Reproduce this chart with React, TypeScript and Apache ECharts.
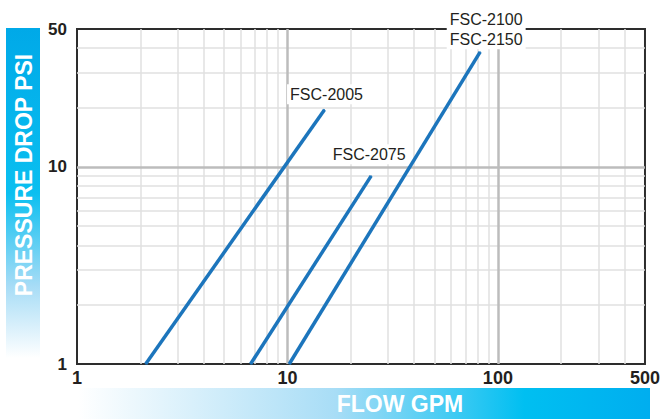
import React, { useEffect, useRef } from 'react';
import * as echarts from 'echarts';

// ---- data ----
const xTickLabels = [1, 10, 100, 500];
const yTickLabels = [1, 10, 50];
const xMinorGrid = [2, 3, 4, 5, 6, 7, 8, 9, 20, 30, 40, 50, 60, 70, 80, 90, 200, 300, 400];
const xMajorGrid = [10, 100];
const yMinorGrid = [2, 3, 4, 5, 6, 7, 8, 9, 20, 30, 40];
const yMajorGrid = [10];

const lineNames = ['FSC-2005', 'FSC-2075', 'FSC-2100\nFSC-2150'];
const fsc2005 = [
  [2.12, 1],
  [15, 19.5],
];
const fsc2075 = [
  [6.68, 1],
  [25, 9],
];
const fsc2100 = [
  [10.2, 1],
  [82.4, 38.3],
];

const FONT = '"Liberation Sans", Arial, Helvetica, sans-serif';
const LINE_COLOR = '#1c75bc';

function makeLine(name: string, pts: number[][], labelDistance: number, offsetX: number) {
  const last = pts[pts.length - 1];
  return {
    type: 'line',
    name,
    z: 5,
    symbol: 'circle',
    symbolSize: 1,
    showSymbol: true,
    itemStyle: { color: LINE_COLOR },
    lineStyle: { color: LINE_COLOR, width: 3.5, cap: 'butt' },
    data: [
      ...pts.slice(0, -1).map((p) => ({ value: p })),
      {
        value: last,
        label: {
          show: true,
          position: 'top',
          distance: labelDistance,
          offset: [offsetX, 0],
          formatter: name,
          fontFamily: FONT,
          fontSize: 16,
          lineHeight: 20,
          color: '#231f20',
          backgroundColor: '#ffffff',
          padding: [0, 3],
        },
      },
    ],
  };
}

export default function App() {
  const ref = useRef<HTMLDivElement>(null);

  useEffect(() => {
    if (!ref.current) return;
    const chart = echarts.init(ref.current, null, { renderer: 'svg' });

    const minorStyle = { color: '#e0e0e0', width: 1.5, type: 'solid' };
    const majorStyle = { color: '#bcbcbc', width: 2.5, type: 'solid' };

    const gridLineData = [
      ...xMinorGrid.map((v) => ({ xAxis: v, lineStyle: minorStyle })),
      ...yMinorGrid.map((v) => ({ yAxis: v, lineStyle: minorStyle })),
      ...xMajorGrid.map((v) => ({ xAxis: v, lineStyle: majorStyle })),
      ...yMajorGrid.map((v) => ({ yAxis: v, lineStyle: majorStyle })),
    ];

    const option: any = {
      animation: false,
      backgroundColor: '#ffffff',
      grid: {
        left: 77,
        top: 29,
        right: 14,
        bottom: 55,
        show: true,
        borderColor: '#2d2d2d',
        borderWidth: 2,
        backgroundColor: 'transparent',
        z: 3,
      },
      xAxis: {
        type: 'log',
        logBase: 10,
        min: 1,
        max: 500,
        axisLine: { show: false },
        axisTick: { show: false },
        splitLine: { show: false },
        minorTick: { show: false },
        axisLabel: {
          customValues: xTickLabels,
          margin: 5,
          fontFamily: FONT,
          fontSize: 18,
          fontWeight: 'bold',
          color: '#231f20',
          formatter: (v: number) => String(Math.round(v)),
        },
      },
      yAxis: {
        type: 'log',
        logBase: 10,
        min: 1,
        max: 50,
        axisLine: { show: false },
        axisTick: { show: false },
        splitLine: { show: false },
        minorTick: { show: false },
        axisLabel: {
          customValues: yTickLabels,
          margin: 10,
          fontFamily: FONT,
          fontSize: 17,
          fontWeight: 'bold',
          color: '#231f20',
          formatter: (v: number) => String(Math.round(v)),
        },
      },
      graphic: [
        {
          type: 'rect',
          left: 6,
          top: 28,
          shape: { width: 34, height: 330 },
          style: {
            fill: new echarts.graphic.LinearGradient(0, 0, 0, 1, [
              { offset: 0, color: '#00a9e8' },
              { offset: 0.5, color: '#0abff0' },
              { offset: 0.78, color: '#a6dcf6' },
              { offset: 1, color: '#ffffff' },
            ]),
          },
          z: 0,
        },
        {
          type: 'text',
          x: 24,
          y: 175,
          rotation: Math.PI / 2,
          style: {
            text: 'PRESSURE DROP PSI',
            fill: '#ffffff',
            font: `bold 23px ${FONT}`,
            align: 'center',
            verticalAlign: 'middle',
          },
          z: 1,
        },
        {
          type: 'rect',
          left: 78,
          top: 388,
          shape: { width: 572, height: 31 },
          style: {
            fill: new echarts.graphic.LinearGradient(0, 0, 1, 0, [
              { offset: 0, color: '#ffffff' },
              { offset: 0.45, color: '#a8ddf6' },
              { offset: 0.78, color: '#00bff1' },
              { offset: 1, color: '#00aeef' },
            ]),
          },
          z: 0,
        },
        {
          type: 'text',
          x: 400,
          y: 404,
          style: {
            text: 'FLOW GPM',
            fill: '#ffffff',
            font: `bold 23px ${FONT}`,
            align: 'center',
            verticalAlign: 'middle',
          },
          z: 1,
        },
      ],
      series: [
        {
          type: 'line',
          name: 'grid',
          z: 1,
          symbol: 'none',
          silent: true,
          lineStyle: { width: 0 },
          data: [[1, 1]],
          markLine: {
            silent: true,
            symbol: ['none', 'none'],
            label: { show: false },
            emphasis: { disabled: true },
            data: gridLineData,
          },
        },
        makeLine(lineNames[0], fsc2005, 5, 2),
        makeLine(lineNames[1], fsc2075, 11, -2),
        makeLine(lineNames[2], fsc2100, 2, 6),
      ],
    };

    chart.setOption(option);
    return () => chart.dispose();
  }, []);

  return (
    <div
      ref={ref}
      style={{ position: 'fixed', left: 0, top: 0, width: 663, height: 419 }}
    />
  );
}
